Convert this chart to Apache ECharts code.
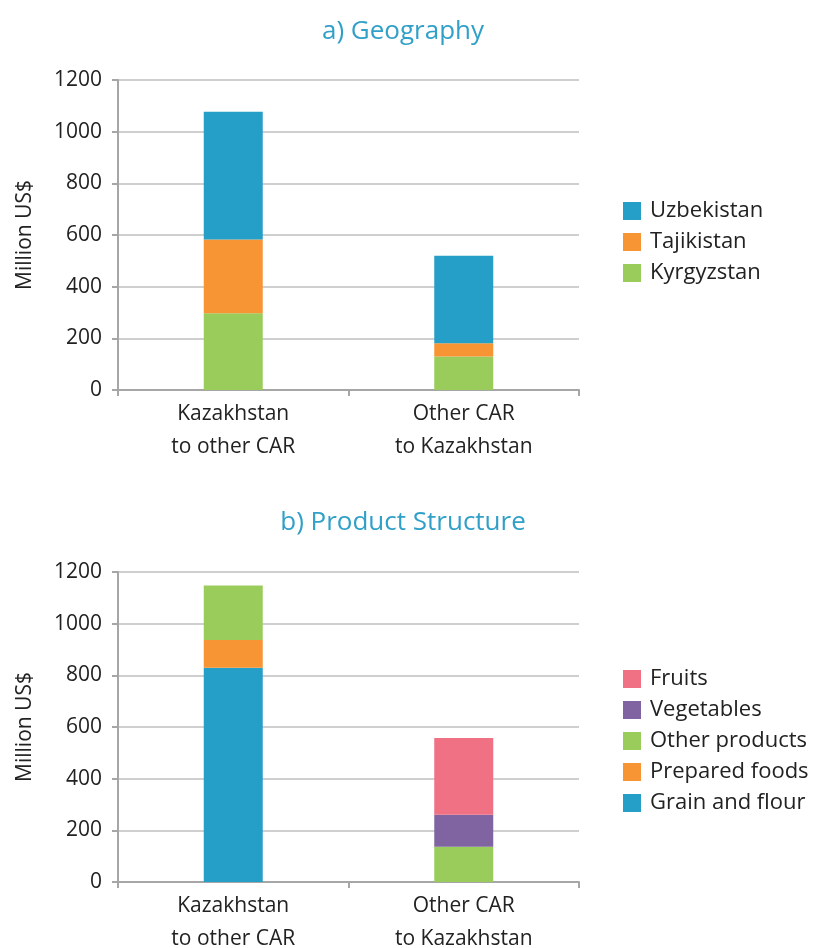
<!DOCTYPE html>
<html>
<head>
<meta charset="utf-8">
<script src="https://cdn.jsdelivr.net/npm/echarts@6/dist/echarts.min.js"></script>
<style>
  html, body { margin: 0; padding: 0; background: #fff; }
  #chart { width: 822px; height: 948px; }
</style>
</head>
<body>
<div id="chart"></div>
<script>
// data (million US$)
const categories = ['Kazakhstan\nto other CAR', 'Other CAR\nto Kazakhstan']
const yTicks = [0, 200, 400, 600, 800, 1000, 1200]

const kyrgyzstan = [297, 130]
const tajikistan = [286, 51]
const uzbekistan = [494, 339]

const grainFlour = [829, 0]
const preparedFoods = [108, 0]
const otherProducts = [211, 136]
const vegetables = [0, 124]
const fruits = [0, 297]

const FONT = 'Open Sans'
const BLUE = '#259fc7', ORANGE = '#f79433', GREEN = '#99cc5a', PURPLE = '#8064a2', PINK = '#f07084'

let myChart = echarts.init(document.getElementById('chart'))

function xAxisFor(gridIndex) {
  return {
    type: 'category', gridIndex: gridIndex, data: categories,
    axisLine: { lineStyle: { color: '#a6a6a6', width: 2 } },
    axisTick: { show: true, alignWithLabel: false, length: 6, lineStyle: { color: '#a6a6a6', width: 2 } },
    axisLabel: { color: '#222', fontSize: 21, fontFamily: FONT, lineHeight: 33, margin: 8 }
  }
}
function yAxisFor(gridIndex) {
  return {
    type: 'value', gridIndex: gridIndex, min: 0, max: 1200, interval: 200,
    name: 'Million US$', nameLocation: 'middle', nameGap: 82, nameRotate: 90,
    nameTextStyle: { color: '#222', fontSize: 21, fontFamily: FONT },
    axisLine: { show: true, lineStyle: { color: '#a6a6a6', width: 2 } },
    axisTick: { show: true, length: 6, lineStyle: { color: '#a6a6a6', width: 2 } },
    splitLine: { lineStyle: { color: '#bfbfbf', width: 1.5 } },
    axisLabel: { color: '#222', fontSize: 21, fontFamily: FONT, margin: 16,
      formatter: v => yTicks.includes(v) ? String(v) : '' }
  }
}
function bar(name, data, color, g) {
  return { name: name, type: 'bar', stack: 's' + g, xAxisIndex: g, yAxisIndex: g,
    data: data, barWidth: 59, itemStyle: { color: color } }
}
function legendFor(top, names) {
  return { orient: 'vertical', left: 623, top: top, padding: 0, icon: 'rect',
    itemWidth: 18, itemHeight: 18, itemGap: 9, data: names,
    textStyle: { color: '#222', fontSize: 22, lineHeight: 20, fontFamily: FONT, padding: [0, 0, 0, 4] } }
}

myChart.setOption({
  animation: false,
  title: [
    { text: 'a) Geography', left: 398, top: 14, textAlign: 'center',
      textStyle: { color: '#31a0c8', fontSize: 26, fontWeight: 'normal', fontFamily: FONT } },
    { text: 'b) Product Structure', left: 398, top: 505, textAlign: 'center',
      textStyle: { color: '#31a0c8', fontSize: 26, fontWeight: 'normal', fontFamily: FONT } }
  ],
  legend: [
    legendFor(200, ['Uzbekistan', 'Tajikistan', 'Kyrgyzstan']),
    legendFor(668, ['Fruits', 'Vegetables', 'Other products', 'Prepared foods', 'Grain and flour'])
  ],
  grid: [
    { left: 118, width: 461, top: 80, height: 310, outerBoundsMode: 'none' },
    { left: 118, width: 461, top: 572, height: 310, outerBoundsMode: 'none' }
  ],
  xAxis: [xAxisFor(0), xAxisFor(1)],
  yAxis: [yAxisFor(0), yAxisFor(1)],
  series: [
    bar('Kyrgyzstan', kyrgyzstan, GREEN, 0),
    bar('Tajikistan', tajikistan, ORANGE, 0),
    bar('Uzbekistan', uzbekistan, BLUE, 0),
    bar('Grain and flour', grainFlour, BLUE, 1),
    bar('Prepared foods', preparedFoods, ORANGE, 1),
    bar('Other products', otherProducts, GREEN, 1),
    bar('Vegetables', vegetables, PURPLE, 1),
    bar('Fruits', fruits, PINK, 1)
  ]
})
</script>
</body>
</html>
